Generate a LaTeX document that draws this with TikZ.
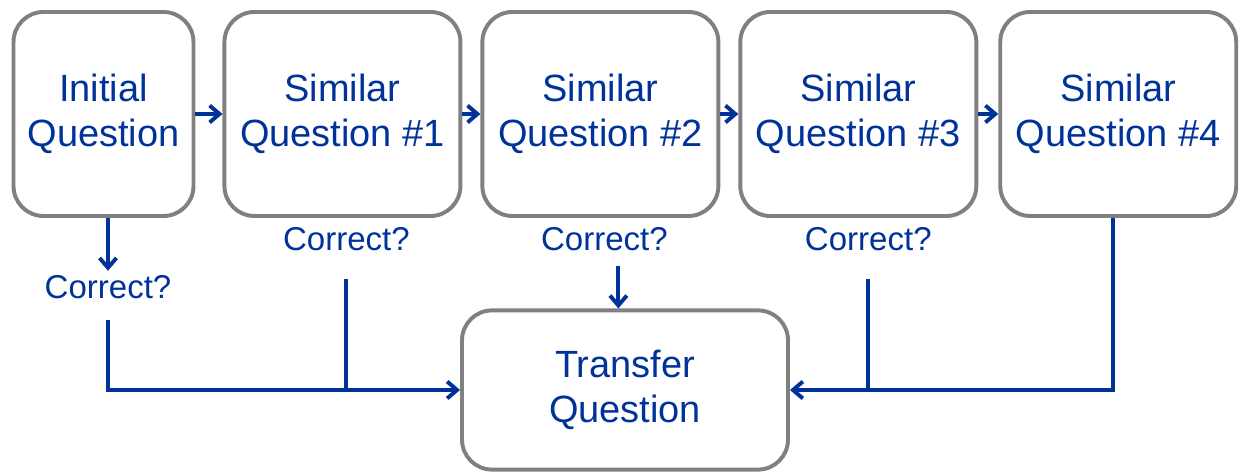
\documentclass[tikz,border=0pt]{standalone}
\usepackage{fontspec}
\setmainfont{Liberation Sans}
\usetikzlibrary{positioning}
\usetikzlibrary{arrows.meta}
\definecolor{qblue}{RGB}{0,51,153}
\definecolor{qgray}{RGB}{128,128,128}
\tikzset{qbox/.style={draw=qgray, line width=2.8pt, rounded corners=0.75cm, fill=white, text=qblue, font=\fontsize{27}{32}\selectfont, align=center, minimum width=5.9cm, minimum height=5.1cm, inner sep=0pt}}
\tikzset{ask/.style={text=qblue, font=\fontsize{23.5}{28}\selectfont, inner sep=3pt}}
\tikzset{link/.style={qblue, line width=2.8pt, -{Straight Barb[length=7pt, width=12pt]}}}
\tikzset{wire/.style={qblue, line width=2.8pt}}

\begin{document}
\begin{tikzpicture}
  \useasboundingbox (0,0) rectangle (31.025,11.9);
  \node[qbox, minimum width=4.5cm] (s0) at (2.5875,9.05) {Initial\\Question};
  \foreach \x/\g [remember=\x as \lastx (initially 0)] in {1/0.675, 2/0.45, 3/0.45, 4/0.5}{
    \node[qbox, right = \g cm of s\lastx] (s\x) {Similar\\Question \#\x};
    \draw[link] (s\lastx) -- (s\x);
  }

  \node[qbox, minimum width=8.15cm, minimum height=3.98cm] (tq) at (15.625,2.15) {Transfer\\Question};

  \node[ask] (c0) at (2.7,4.725) {Correct?};
  \node[ask, below = 0.12cm of s1, xshift=0.1cm] (c1) {Correct?};
  \node[ask, below = 0.12cm of s2, xshift=0.1cm] (c2) {Correct?};
  \node[ask, below = 0.12cm of s3, xshift=0.25cm] (c3) {Correct?};

  \draw[link] (s0.south -| c0) -- (c0);
  \draw[link] ([yshift=-0.42cm]c0.south) |- (tq.west);
  \draw[wire] ([yshift=-0.6cm]c1.south) -- (c1.south |- tq.west);
  \draw[link] ([xshift=0.35cm, yshift=-0.27cm]c2.south) -- ([xshift=0.35cm]c2.south |- tq.north);
  \draw[wire] ([yshift=-0.6cm]c3.south) -- (c3.south |- tq.east);
  \draw[link] ([xshift=-0.125cm]s4.south) |- (tq.east);
\end{tikzpicture}
\end{document}
